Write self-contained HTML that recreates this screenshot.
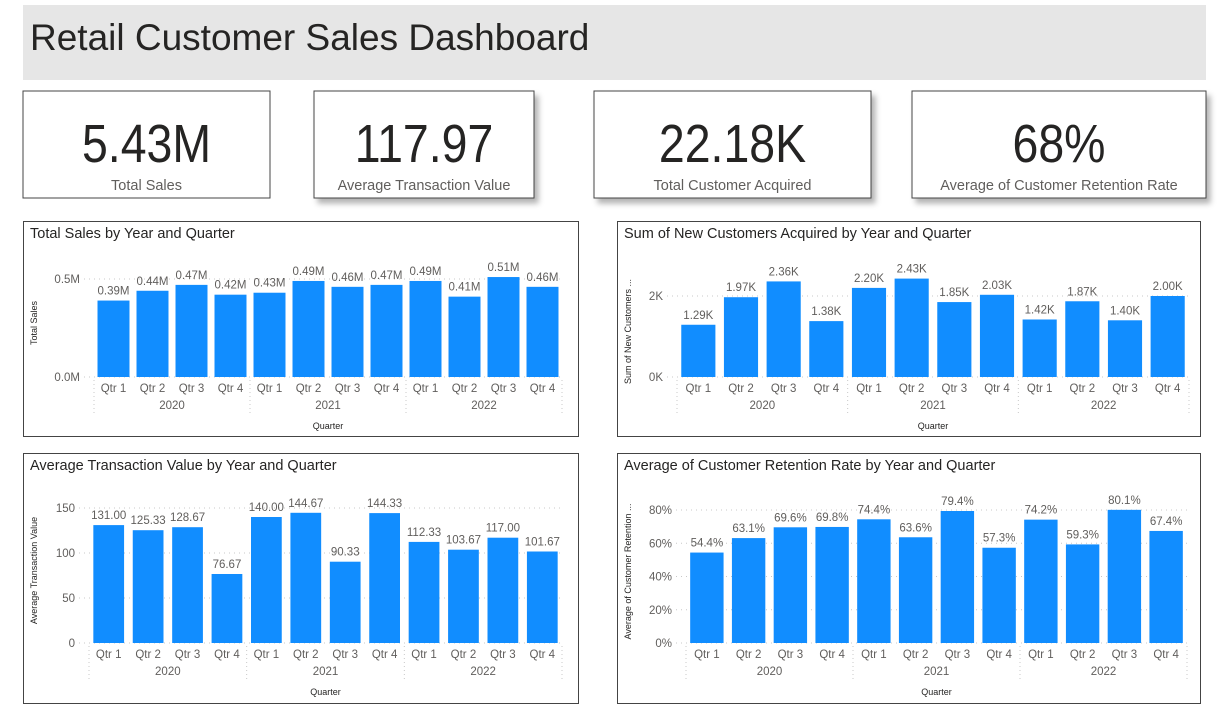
<!DOCTYPE html>
<html><head><meta charset="utf-8"><style>
body{margin:0;background:#fff;width:1232px;height:707px;overflow:hidden;font-family:"Liberation Sans",sans-serif}
svg text{font-family:"Liberation Sans",sans-serif}
</style></head><body>
<svg id="s" width="1232" height="707" xmlns="http://www.w3.org/2000/svg">
<defs><filter id="sh" x="-10%" y="-10%" width="130%" height="140%"><feDropShadow dx="4" dy="5" stdDeviation="3" flood-color="#000" flood-opacity="0.3"/></filter></defs>
<rect x="23" y="5" width="1183" height="75" fill="#e6e6e6"/>
<text x="30" y="50" font-size="37" fill="#252423">Retail Customer Sales Dashboard</text>
<g id="cards"></g>
<g id="charts"></g>
</svg>
<script>
const NS='http://www.w3.org/2000/svg';
function el(p,t,a,txt){const e=document.createElementNS(NS,t);for(const k in a)e.setAttribute(k,a[k]);if(txt!==undefined)e.textContent=txt;p.appendChild(e);return e;}
const cardValues=['5.43M','117.97','22.18K','68%'];
const cardLabels=['Total Sales','Average Transaction Value','Total Customer Acquired','Average of Customer Retention Rate'];
const cardBoxes=[[23,91,247,107,false],[314,91,220,107,true],[594,91,277,107,true],[912,91,294,107,true]];
const cg=document.getElementById('cards');
cardBoxes.forEach((b,i)=>{
  const g=el(cg,'g',{});
  
  
  const r=el(g,'rect',{x:b[0],y:b[1],width:b[2],height:b[3],fill:'#fff',stroke:'#444','stroke-width':1});
  if(b[4])r.setAttribute('filter','url(#sh)');
  const cx=b[0]+b[2]/2;
  const v=el(g,'text',{x:0,y:0,'font-size':54,fill:'#252423','text-anchor':'middle',transform:`translate(${cx},162) scale(0.86,1)`},cardValues[i]);
  
  
  const l=el(g,'text',{x:cx,y:190,'font-size':14.5,fill:'#605e5c','text-anchor':'middle'},cardLabels[i]);
  
  
});

const quarters=['Qtr 1','Qtr 2','Qtr 3','Qtr 4','Qtr 1','Qtr 2','Qtr 3','Qtr 4','Qtr 1','Qtr 2','Qtr 3','Qtr 4'];
const years=['2020','2021','2022'];
const salesValues=[0.39,0.44,0.47,0.42,0.43,0.49,0.46,0.47,0.49,0.41,0.51,0.46];
const salesTicks=[0,0.5];
const salesTickLabels=['0.0M','0.5M'];
const custValues=[1.29,1.97,2.36,1.38,2.20,2.43,1.85,2.03,1.42,1.87,1.40,2.00];
const custTicks=[0,2];
const custTickLabels=['0K','2K'];
const atvValues=[131.00,125.33,128.67,76.67,140.00,144.67,90.33,144.33,112.33,103.67,117.00,101.67];
const atvTicks=[0,50,100,150];
const atvTickLabels=['0','50','100','150'];
const retValues=[54.4,63.1,69.6,69.8,74.4,63.6,79.4,57.3,74.2,59.3,80.1,67.4];
const retTicks=[0,20,40,60,80];
const retTickLabels=['0%','20%','40%','60%','80%'];

const charts=[
 {name:'total-sales-chart',title:'Total Sales by Year and Quarter',ylab:'Total Sales',box:[23,221,555,215],x0:94,x1:562,base:377,top:279,tmax:0.5,vals:salesValues,ticks:salesTicks,tl:salesTickLabels,fmt:v=>v.toFixed(2)+'M',bw:0.82},
 {name:'new-customers-chart',title:'Sum of New Customers Acquired by Year and Quarter',ylab:'Sum of New Customers ...',box:[617,221,583,215],x0:677,x1:1189,base:377,top:296,tmax:2,vals:custValues,ticks:custTicks,tl:custTickLabels,fmt:v=>v.toFixed(2)+'K',bw:0.8},
 {name:'avg-transaction-chart',title:'Average Transaction Value by Year and Quarter',ylab:'Average Transaction Value',box:[23,453,555,250],x0:89,x1:562,base:643,top:508,tmax:150,vals:atvValues,ticks:atvTicks,tl:atvTickLabels,fmt:v=>v.toFixed(2),bw:0.78},
 {name:'retention-rate-chart',title:'Average of Customer Retention Rate by Year and Quarter',ylab:'Average of Customer Retention ...',box:[617,453,583,250],x0:686,x1:1187,base:643,top:510,tmax:80,vals:retValues,ticks:retTicks,tl:retTickLabels,fmt:v=>v.toFixed(1)+'%',bw:0.8}
];
const root=document.getElementById('charts');
charts.forEach(c=>{
  const g=el(root,'g',{});
  
  
  const [bx,by,bw,bh]=c.box;
  el(g,'rect',{x:bx+0.5,y:by+0.5,width:bw,height:bh,fill:'#fff',stroke:'#444','stroke-width':1});
  const t=el(g,'text',{x:bx+7,y:by+17,'font-size':14.5,fill:'#252423'},c.title);
  
  
  const ys=v=>c.base-(v/c.tmax)*(c.base-c.top);
  const n=c.vals.length, step=(c.x1-c.x0)/n;
  const xs=i=>c.x0+step*i;
  c.ticks.forEach((tv,i)=>{
    el(g,'line',{x1:c.x0-10,x2:c.x1,y1:ys(tv),y2:ys(tv),stroke:'#c8c8c8','stroke-dasharray':'1 4'});
    const tt=el(g,'text',{x:c.x0-14,y:ys(tv)+4,'font-size':11.5,fill:'#605e5c','text-anchor':'end'},c.tl[i]);
    
    
  });
  const yl=el(g,'text',{x:0,y:0,'font-size':9,fill:'#252423','text-anchor':'middle',transform:`translate(${bx+14},${(c.base+c.top)/2-5}) rotate(-90)`},c.ylab);
  
  
  c.vals.forEach((v,i)=>{
    const w=step*c.bw, x=xs(i)+(step-w)/2;
    const r=el(g,'rect',{x:x,y:ys(v),width:w,height:c.base-ys(v),fill:'#118DFF'});
    
    
    const lb=el(g,'text',{x:x+w/2,y:ys(v)-6,'font-size':11.5,fill:'#605e5c','text-anchor':'middle'},c.fmt(v));
    
    
    const q=el(g,'text',{x:xs(i)+step/2,y:c.base+15,'font-size':11.5,fill:'#605e5c','text-anchor':'middle'},quarters[i]);
    
    
  });
  for(let k=0;k<=3;k++){
    const x=xs(k*4);
    el(g,'line',{x1:x,x2:x,y1:c.base+3,y2:c.base+38,stroke:'#c8c8c8','stroke-dasharray':'1 3'});
  }
  years.forEach((yv,k)=>{
    const yt=el(g,'text',{x:xs(k*4)+step*2,y:c.base+32,'font-size':11.5,fill:'#605e5c','text-anchor':'middle'},yv);
    
    
  });
  const xt=el(g,'text',{x:(c.x0+c.x1)/2,y:c.base+52,'font-size':9,fill:'#252423','text-anchor':'middle'},'Quarter');
  
  
});
</script>
</body></html>
